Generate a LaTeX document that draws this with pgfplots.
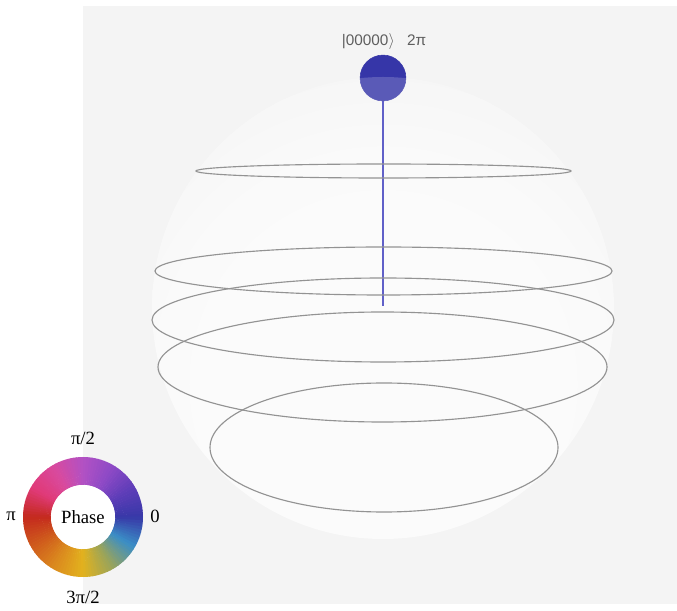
\documentclass[border=0pt]{standalone}
\usepackage{fontspec}
\setmainfont{Liberation Serif}
\newfontfamily\labelsans{Liberation Sans}
\usepackage{pgfplots}
\pgfplotsset{compat=1.18}

% panel and sphere tones
\definecolor{panel}{HTML}{F4F4F4}
\definecolor{sphA}{HTML}{FBFBFB}
\definecolor{sphB}{HTML}{F2F2F2}
\definecolor{sphC}{HTML}{E7E7E7}
\definecolor{sphD}{HTML}{E0E0E0}
\definecolor{sphE}{HTML}{DCDCDC}
\definecolor{ringgray}{HTML}{939393}
\definecolor{stemblue}{HTML}{3E3EBC}
\definecolor{markblue}{HTML}{3636A8}
\definecolor{statelabel}{HTML}{5E5E5E}

% phase wheel colours, every 30 degrees
\definecolor{wc0}{HTML}{3838A8}
\definecolor{wc1}{HTML}{5E3DB8}
\definecolor{wc2}{HTML}{8E4AC6}
\definecolor{wc3}{HTML}{B251C4}
\definecolor{wc4}{HTML}{D94A9E}
\definecolor{wc5}{HTML}{E03A78}
\definecolor{wc6}{HTML}{C42A1E}
\definecolor{wc7}{HTML}{CF5A1C}
\definecolor{wc8}{HTML}{DB8A1E}
\definecolor{wc9}{HTML}{E2B21E}
\definecolor{wc10}{HTML}{9AA45A}
\definecolor{wc11}{HTML}{3A8EC6}
\definecolor{wc12}{HTML}{3838A8}

% sphere shading, brighter towards the lower middle, darker rim
\pgfdeclareradialshading{spherefill}{\pgfpoint{0bp}{-12bp}}{%
  color(0bp)=(sphA); color(20bp)=(sphA); color(38bp)=(sphB);
  color(50bp)=(sphC); color(58bp)=(sphD); color(66bp)=(sphE)}

\begin{document}
\begin{tikzpicture}[x=0.75pt,y=0.75pt]
  % white page and grey panel
  \fill[white] (0,0) rectangle (677,610);
  \fill[panel] (83,6) rectangle (677,604);
  % sphere body
  \shade[shading=spherefill] (383,302) circle[radius=231];

  \begin{axis}[
    at={(0,0)}, anchor=south west,
    scale only axis, width=507.75pt, height=457.5pt,
    xmin=0, xmax=677, ymin=0, ymax=610,
    hide axis, clip=false]
    % state |00000>, amplitude 1, phase 2pi
    \addplot[draw=stemblue, line width=2.2pt] coordinates {(383,304) (383,532)};
    \addplot[only marks, mark=*, mark size=17.2pt,
      mark options={fill=markblue, draw=markblue}] coordinates {(383,532)};
    \node[font=\labelsans\fontsize{11.5}{13}\selectfont, text=statelabel]
      at (axis cs:384,568) {|00000$\rangle$\hspace{0.8em}2π};
  \end{axis}

  % translucent front of the sphere
  \fill[white, fill opacity=0.18] (383,302) circle[radius=231];

  % latitude rings
  \begin{scope}[draw=ringgray, line width=0.85pt]
    \draw (383.5,439) ellipse[x radius=187.5, y radius=7];
    \draw (383.5,339) ellipse[x radius=228.5, y radius=24];
    \draw (383,290) ellipse[x radius=231, y radius=42];
    \draw (382.5,243) ellipse[x radius=224.5, y radius=55];
    \draw (384,162.5) ellipse[x radius=174, y radius=64.5];
  \end{scope}

  % phase colour wheel
  \begin{scope}[shift={(83,93)}]
    \foreach \i [evaluate=\i as \ip using int(\i+1)] in {0,...,11} {
      \foreach \j in {0,...,9} {
        \pgfmathsetmacro\a{30*\i+3*\j}
        \pgfmathsetmacro\b{\a+3.6}
        \pgfmathtruncatemacro\p{\j*10+5}
        \fill[color=wc\ip!\p!wc\i] (\a:32) arc[start angle=\a, end angle=\b, radius=32]
          -- (\b:60) arc[start angle=\b, end angle=\a, radius=60] -- cycle;
      }
    }
    \fill[white] (0,0) circle[radius=32];
    \node[font=\fontsize{14}{16}\selectfont] at (0,0) {Phase};
    \node[font=\fontsize{14}{16}\selectfont] at (0,79) {π/2};
    \node[font=\fontsize{14}{16}\selectfont] at (-72,1) {π};
    \node[font=\fontsize{14}{16}\selectfont] at (72,1) {0};
    \node[font=\fontsize{14}{16}\selectfont] at (0,-80) {3π/2};
  \end{scope}
\end{tikzpicture}
\end{document}
